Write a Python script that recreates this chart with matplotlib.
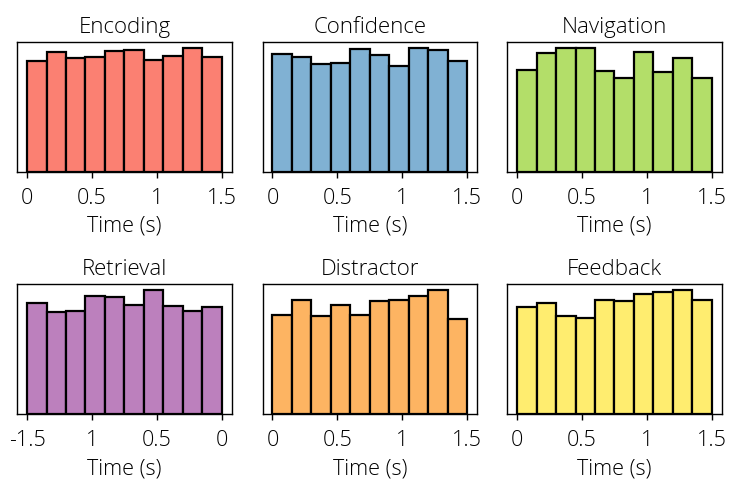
import numpy as np
import matplotlib
matplotlib.use("Agg")
import matplotlib.pyplot as plt

plt.rcParams['font.family'] = ['Open Sans', 'DejaVu Sans']

# Per-condition histogram counts (10 bins each)
titles = ["Encoding", "Confidence", "Navigation", "Retrieval", "Distractor", "Feedback"]
colors = ["#fb8072", "#80b1d3", "#b3de69", "#bc80bd", "#fdb462", "#ffed6f"]

encoding = [332, 361, 342, 346, 365, 367, 337, 348, 373, 346]
confidence = [355, 345, 325, 328, 370, 350, 317, 373, 366, 332]
navigation = [306, 356, 373, 373, 304, 282, 361, 300, 342, 281]
retrieval = [334, 307, 310, 353, 350, 327, 371, 323, 309, 320]
distractor = [298, 342, 294, 327, 298, 339, 341, 353, 371, 286]
feedback = [322, 333, 294, 287, 342, 339, 361, 366, 371, 341]
counts = [encoding, confidence, navigation, retrieval, distractor, feedback]

# Time ranges of the bins
ranges = [(0, 1.5), (0, 1.5), (0, 1.5), (-1.5, 0), (0, 1.5), (0, 1.5)]
n_bins = 10

tick_pos = [0, 0.5, 1, 1.5]
tick_labels = ["0", "0.5", "1", "1.5"]
tick_pos_ret = [-1.5, -1, -0.5, 0]
tick_labels_ret = ["-1.5", "1", "0.5", "0"]

fig = plt.figure(figsize=(7.29, 4.81), dpi=100)

lefts = [0.0237, 0.3604, 0.6959]
bottoms = [0.641, 0.1372]
w, h = 0.294, 0.2703
fs = 15.5

for i, (title, color, vals, rng) in enumerate(zip(titles, colors, counts, ranges)):
    row, col = divmod(i, 3)
    ax = fig.add_axes([lefts[col], bottoms[row], w, h])
    edges = np.linspace(rng[0], rng[1], n_bins + 1)
    ax.bar(edges[:-1], vals, width=np.diff(edges), align='edge',
           color=color, edgecolor='black', linewidth=1.6)
    ax.set_ylim(0, max(vals) * 1.05)
    ax.set_yticks([])
    if title == "Retrieval":
        ax.set_xticks(tick_pos_ret)
        ax.set_xticklabels(tick_labels_ret)
    else:
        ax.set_xticks(tick_pos)
        ax.set_xticklabels(tick_labels)
    ax.tick_params(axis='x', labelsize=fs, length=4, width=1.0, pad=7)
    for lbl in ax.get_xticklabels():
        lbl.set_fontweight('light')
    ax.set_xlabel("Time (s)", fontsize=fs, labelpad=5, fontweight='light')
    ax.set_title(title, fontsize=16, pad=7, fontweight='light')
    for s in ax.spines.values():
        s.set_linewidth(1.0)

fig.savefig("out.png", dpi=100)
